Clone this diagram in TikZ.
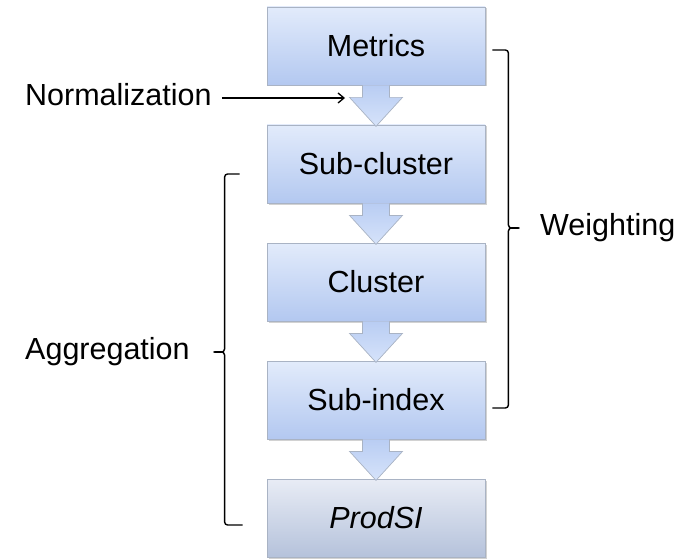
\documentclass[tikz,border=0pt]{standalone}
\usepackage{fontspec}
\setmainfont{Liberation Sans}
\usetikzlibrary{arrows.meta,shadows,calc}
\definecolor{boxtop}{HTML}{E2EBFB}
\definecolor{boxbot}{HTML}{B3C8F0}
\definecolor{ptop}{HTML}{E8ECF5}
\definecolor{pbot}{HTML}{B5C2DB}
\definecolor{arrtop}{HTML}{B9CDF3}
\definecolor{arrbot}{HTML}{D6E3FA}
\definecolor{boxline}{HTML}{A9B3C4}
\tikzset{
  stage/.style={draw=boxline, line width=0.8pt, minimum width=218pt, minimum height=78pt,
    top color=boxtop, bottom color=boxbot, inner sep=0pt,
    drop shadow={shadow xshift=1.5pt, shadow yshift=-1.5pt, fill=black!35, opacity=0.5},
    font=\fontsize{30.5}{36}\selectfont},
  finalstage/.style={stage, top color=ptop, bottom color=pbot},
  lbl/.style={font=\fontsize{30.5}{36}\selectfont, inner sep=0pt},
  brace/.style={line width=1.4pt, line join=round},
  blockarr/.style={draw=boxline, line width=0.7pt, top color=arrtop, bottom color=arrbot},
}
\newcommand{\blockarrow}[1]{%
  \path[blockarr] ($(#1.south)+(-13.5pt,0)$) -- ++(0,-12pt) -- ++(-13pt,0)
    -- ++(26.5pt,-29pt) -- ++(26.5pt,29pt) -- ++(-13pt,0) -- ++(0,12pt);}
\begin{document}
\begin{tikzpicture}[x=1pt,y=-1pt]
\useasboundingbox (0,0) rectangle (691,559);
\node[stage] (m) at (376,46) {Metrics};
\node[stage] (sc) at (376,164) {Sub-cluster};
\node[stage] (c) at (376,282) {Cluster};
\node[stage] (si) at (376,400) {Sub-index};
\node[finalstage] (p) at (376,518) {\itshape ProdSI};
\blockarrow{m}
\blockarrow{sc}
\blockarrow{c}
\blockarrow{si}
% Normalization
\node[lbl, anchor=west] (norm) at (25,95) {Normalization};
\coordinate (normend) at (345,98);
\draw[line width=1.3pt, -{Straight Barb[length=6pt,width=10pt]}] (norm.east |- normend) ++(10,0) -- (normend);
% Weighting brace
\node[lbl, anchor=west] (w) at (540,228) {Weighting};
\coordinate (wtop) at ($(m.east)+(7,4)$);
\coordinate (wbot) at ($(si.east)+(7,8)$);
\draw[brace] (wtop) -- ++(13,0) coordinate (wt2) to[out=0,in=90] ++(3,3) -- ($(wt2|-w.west)+(3,-3)$)
  to[out=-90,in=180] ($(wt2|-w.west)+(14,0)$);
\draw[brace] ($(wt2|-w.west)+(14,0)$) to[out=180,in=90] ($(wt2|-w.west)+(3,3)$)
  -- ($(wt2|-wbot)+(3,-3)$) to[out=-90,in=0] (wt2|-wbot) -- (wbot);
% Aggregation brace
\node[lbl, anchor=west] (a) at (25,352) {Aggregation};
\coordinate (atop) at ($(sc.west)+(-27,10)$);
\coordinate (abot) at ($(p.west)+(-24,7)$);
\draw[brace] (atop) -- ++(-12,0) coordinate (at2) to[out=180,in=90] ++(-3,3)
  -- ($(at2|-a.east)+(-3,-3)$) to[out=-90,in=0] ($(at2|-a.east)+(-14,0)$);
\draw[brace] ($(at2|-a.east)+(-14,0)$) to[out=0,in=90] ($(at2|-a.east)+(-3,3)$)
  -- ($(at2|-abot)+(-3,-3)$) to[out=-90,in=180] (at2|-abot) -- (abot);
\end{tikzpicture}
\end{document}
